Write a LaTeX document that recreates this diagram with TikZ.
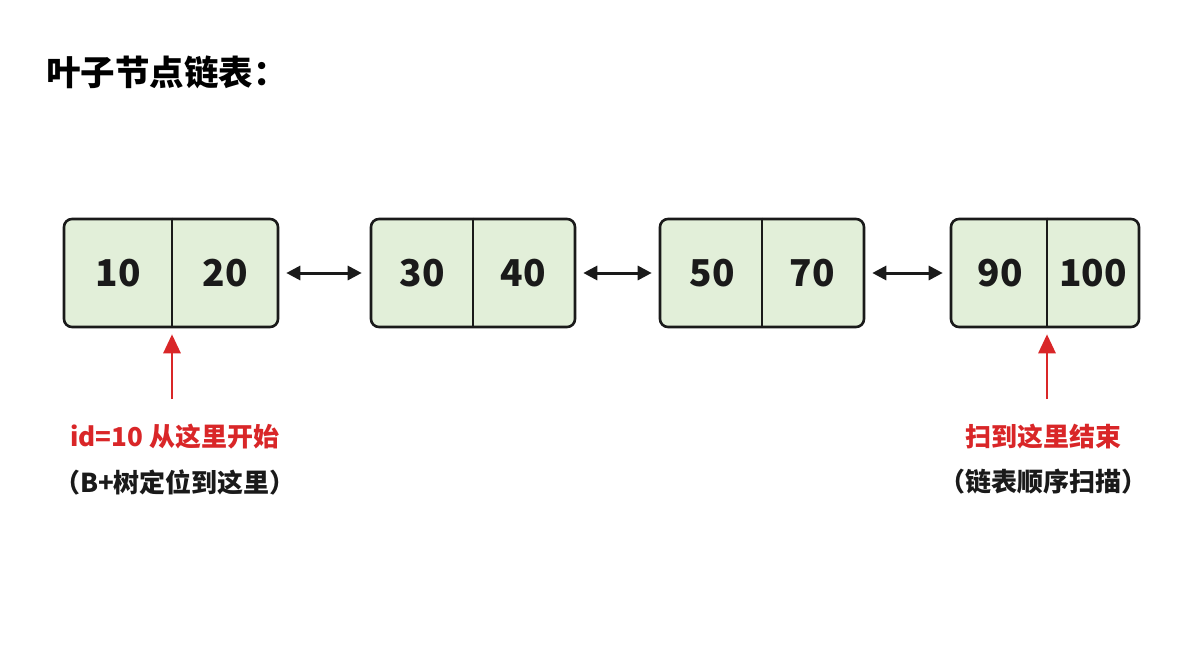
\documentclass[tikz,border=0pt]{standalone}
\usepackage{fontspec}
\setmainfont{Noto Sans CJK SC}
\usetikzlibrary{positioning,arrows.meta}
\definecolor{leafgreen}{HTML}{E2EFD9}
\definecolor{edge}{HTML}{1A1A1A}
\definecolor{hotred}{HTML}{D92628}
\tikzset{
  leaf/.style={rectangle, draw=edge, fill=leafgreen, line width=2.6pt, rounded corners=8pt,
               minimum height=108pt, inner sep=0pt},
  divider/.style={draw=edge, line width=1.3pt},
  num/.style={font=\fontsize{37}{40}\selectfont\bfseries, text=edge, inner sep=0pt},
  link/.style={{Triangle[length=14pt,width=14pt]}-{Triangle[length=14pt,width=14pt]}, line width=3pt, draw=edge},
  ptr/.style={-{Triangle[length=19pt,width=17pt]}, line width=2.8pt, draw=hotred},
  redlabel/.style={font=\fontsize{26}{30}\selectfont\bfseries, text=hotred, inner sep=0pt},
  note/.style={font=\fontsize{26}{30}\selectfont\bfseries, text=edge, inner sep=0pt},
}
\begin{document}
\begin{tikzpicture}[x=1pt, y=-1pt]
  \useasboundingbox[fill=white] (0,0) rectangle (1200,658);
  \node[anchor=west, font=\fontsize{34.5}{38}\selectfont\bfseries, inner sep=0pt] (title) at (46,72) {叶子节点链表：};
  % leaf nodes
  \node[leaf, minimum width=214pt] (b1) at (171,273) {};
  \node[leaf, minimum width=204pt] (b2) at (473,273) {};
  \node[leaf, minimum width=204pt] (b3) at (762,273) {};
  \node[leaf, minimum width=188pt] (b4) at (1045,273) {};
  \draw[divider] (b1.north -| 172,0) -- (b1.south -| 172,0);
  \draw[divider] (b2.north) -- (b2.south);
  \draw[divider] (b3.north) -- (b3.south);
  \draw[divider] (b4.north -| 1047,0) -- (b4.south -| 1047,0);
  \node[num] (k10) at (118,273) {10};
  \node[num] (k20) at (225,273) {20};
  \node[num] (k30) at (422,273) {30};
  \node[num] (k40) at (523,273) {40};
  \node[num] (k50) at (712,273) {50};
  \node[num] (k70) at (812,273) {70};
  \node[num] (k90) at (1000,273) {90};
  \node[num] (k100) at (1093,273) {100};
  % links
  \draw[link, shorten <=7pt, shorten >=8pt] (b1.east) -- (b2.west);
  \draw[link, shorten <=7pt, shorten >=7pt] (b2.east) -- (b3.west);
  \draw[link, shorten <=7pt, shorten >=7pt] (b3.east) -- (b4.west);
  % start / end
  \node[redlabel] (start) at (175,437) {id=10 从这里开始};
  \node[note] (startnote) at (175,482) {（B+树定位到这里）};
  \node[redlabel] (stop) at (1043,437) {扫到这里结束};
  \node[note] (stopnote) at (1043,482) {（链表顺序扫描）};
  \coordinate (p1) at (172,399);
  \coordinate (p2) at (1047,399);
  \draw[ptr, shorten >=6pt] (p1) -- (b1.south -| p1);
  \draw[ptr, shorten >=6pt] (p2) -- (b4.south -| p2);
\end{tikzpicture}
\end{document}
